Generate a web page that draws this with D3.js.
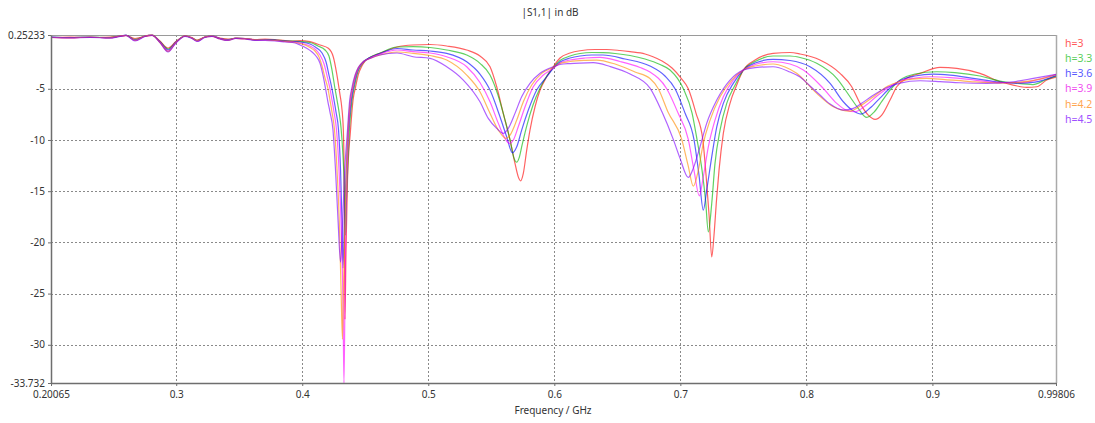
<!DOCTYPE html>
<html><head><meta charset="utf-8">
<script src="https://cdn.jsdelivr.net/npm/d3@7"></script>
<style>body{margin:0;background:#fff;} svg{display:block;font-family:"Noto Sans",sans-serif;}</style>
</head><body><svg id="c" width="1095" height="423"></svg>
<script>
const xTicks = [0.20065,0.3,0.4,0.5,0.6,0.7,0.8,0.9,0.99806];
const xTickLabels = ["0.20065","0.3","0.4","0.5","0.6","0.7","0.8","0.9","0.99806"];
const yTicks = [0.25233,-5,-10,-15,-20,-25,-30,-33.732];
const yTickLabels = ["0.25233","-5","-10","-15","-20","-25","-30","-33.732"];
const seriesNames = ["h=3","h=3.3","h=3.6","h=3.9","h=4.2","h=4.5"];

const lowFreq = [0.20065,0.2157,0.2316,0.2475,0.2554,0.2602,0.2673,0.2752,0.2808,0.2871,0.2935,0.2998,0.3070,0.3125,0.3165,0.3228,0.3284,0.3347,0.3411,0.3474,0.3546,0.3625,0.3705,0.3784,0.3863];
const h30Low = [0.008,0.057,0.008,0.057,0.106,0.204,-0.090,0.106,0.204,-0.334,-1.019,-0.383,0.155,0.008,-0.236,0.057,0.106,-0.041,-0.139,-0.090,-0.139,-0.188,-0.139,-0.188,-0.285];
const h33Low = [0.057,0.008,0.057,0.008,0.155,0.223,-0.188,0.155,0.233,-0.383,-1.116,-0.432,0.155,-0.041,-0.285,0.057,0.155,-0.090,-0.188,-0.041,-0.090,-0.236,-0.188,-0.236,-0.334];
const h36Low = [0.057,0.008,0.057,-0.041,0.155,0.233,-0.236,0.155,0.252,-0.432,-1.214,-0.432,0.155,-0.041,-0.334,0.057,0.155,-0.090,-0.236,-0.041,-0.090,-0.236,-0.188,-0.236,-0.334];
const h39Low = [0.057,-0.041,0.057,-0.041,0.155,0.223,-0.285,0.155,0.233,-0.432,-1.312,-0.481,0.155,-0.041,-0.334,0.057,0.155,-0.090,-0.236,-0.041,-0.090,-0.236,-0.236,-0.285,-0.383];
const h42Low = [0.008,-0.041,0.057,-0.041,0.155,0.223,-0.285,0.155,0.233,-0.481,-1.361,-0.481,0.155,-0.041,-0.334,0.057,0.155,-0.139,-0.285,-0.041,-0.090,-0.236,-0.236,-0.285,-0.383];
const h45Low = [0.008,-0.041,0.008,-0.041,0.106,0.204,-0.334,0.106,0.204,-0.481,-1.410,-0.530,0.106,-0.090,-0.383,0.008,0.106,-0.139,-0.285,-0.090,-0.139,-0.285,-0.285,-0.334,-0.432];

const h30High = [[0.3943,-0.334],[0.3982,-0.305],[0.4062,-0.403],[0.4141,-0.725],[0.4207,-1.048],[0.4246,-1.869],[0.4273,-3.492],[0.4288,-4.635],[0.4300,-5.613],[0.4313,-6.756],[0.4326,-9.034],[0.4334,-15.877],[0.4339,-27.509],[0.4347,-20.764],[0.4359,-13.922],[0.4383,-9.034],[0.4403,-6.102],[0.4423,-4.831],[0.4446,-3.560],[0.4470,-2.846],[0.4498,-2.289],[0.4538,-1.947],[0.4617,-1.536],[0.4752,-0.921],[0.4879,-0.725],[0.5014,-0.676],[0.5146,-0.823],[0.5305,-1.214],[0.5410,-1.800],[0.5490,-2.846],[0.5543,-4.801],[0.5595,-7.401],[0.5649,-10.012],[0.5688,-12.289],[0.5714,-13.599],[0.5733,-13.990],[0.5754,-13.267],[0.5781,-10.989],[0.5807,-9.034],[0.5847,-6.756],[0.5887,-5.124],[0.5940,-3.824],[0.5992,-2.846],[0.6045,-1.996],[0.6125,-1.507],[0.6204,-1.283],[0.6323,-1.165],[0.6416,-1.165],[0.6521,-1.263],[0.6601,-1.380],[0.6720,-1.605],[0.6783,-1.869],[0.6855,-2.289],[0.6934,-2.973],[0.7005,-3.951],[0.7063,-4.997],[0.7124,-7.372],[0.7178,-9.943],[0.7204,-13.433],[0.7228,-17.343],[0.7249,-21.419],[0.7267,-19.298],[0.7287,-15.877],[0.7307,-12.944],[0.7341,-9.357],[0.7394,-6.424],[0.7447,-4.635],[0.7500,-3.169],[0.7593,-2.192],[0.7736,-1.536],[0.7870,-1.458],[0.7950,-1.605],[0.8108,-2.192],[0.8267,-3.492],[0.8360,-4.801],[0.8426,-6.424],[0.8491,-7.568],[0.8545,-7.988],[0.8598,-7.568],[0.8664,-6.102],[0.8717,-4.801],[0.8796,-3.980],[0.8902,-3.492],[0.9060,-2.905],[0.9193,-3.003],[0.9378,-3.492],[0.9536,-4.313],[0.9640,-4.635],[0.9748,-4.860],[0.9828,-4.801],[0.9907,-4.147],[0.99806,-3.853]];
const h33High = [[0.3943,-0.354],[0.3982,-0.383],[0.4062,-0.481],[0.4125,-0.823],[0.4181,-1.214],[0.4212,-1.800],[0.4236,-3.169],[0.4260,-4.997],[0.4276,-6.102],[0.4292,-7.274],[0.4308,-8.838],[0.4323,-11.478],[0.4335,-14.899],[0.4343,-19.298],[0.4351,-15.877],[0.4363,-11.967],[0.4375,-8.838],[0.4395,-6.102],[0.4415,-4.733],[0.4438,-3.511],[0.4462,-2.827],[0.4498,-2.270],[0.4538,-1.918],[0.4617,-1.507],[0.4752,-0.921],[0.4879,-0.891],[0.5014,-0.970],[0.5146,-1.214],[0.5305,-1.703],[0.5410,-2.514],[0.5490,-3.658],[0.5553,-5.613],[0.5609,-8.056],[0.5649,-10.012],[0.5680,-11.771],[0.5702,-12.162],[0.5720,-11.771],[0.5744,-10.500],[0.5783,-8.545],[0.5831,-6.590],[0.5887,-4.929],[0.5940,-3.755],[0.5992,-2.925],[0.6045,-2.240],[0.6125,-1.800],[0.6204,-1.556],[0.6299,-1.458],[0.6386,-1.478],[0.6482,-1.556],[0.6601,-1.752],[0.6720,-2.094],[0.6839,-2.631],[0.6918,-3.169],[0.7024,-4.997],[0.7093,-7.372],[0.7132,-9.943],[0.7172,-12.944],[0.7200,-15.877],[0.7222,-18.975],[0.7249,-16.199],[0.7275,-12.289],[0.7315,-9.034],[0.7368,-6.424],[0.7434,-4.635],[0.7500,-3.169],[0.7593,-2.338],[0.7736,-1.800],[0.7870,-1.800],[0.7950,-1.947],[0.8082,-2.514],[0.8241,-3.980],[0.8346,-5.779],[0.8410,-6.884],[0.8479,-7.793],[0.8537,-7.274],[0.8600,-6.199],[0.8664,-5.124],[0.8743,-4.147],[0.8862,-3.560],[0.9034,-3.335],[0.9179,-3.414],[0.9378,-3.755],[0.9536,-4.244],[0.9655,-4.440],[0.9798,-4.586],[0.9894,-4.147],[0.99806,-3.755]];
const h36High = [[0.3943,-0.383],[0.3982,-0.432],[0.4062,-0.627],[0.4109,-0.970],[0.4157,-1.507],[0.4189,-2.387],[0.4212,-3.658],[0.4236,-4.997],[0.4252,-6.102],[0.4268,-7.274],[0.4288,-9.034],[0.4304,-12.944],[0.4315,-17.832],[0.4323,-22.494],[0.4335,-17.832],[0.4347,-13.433],[0.4367,-9.034],[0.4387,-6.297],[0.4407,-4.831],[0.4431,-3.560],[0.4454,-2.876],[0.4490,-2.289],[0.4538,-1.947],[0.4617,-1.556],[0.4752,-1.067],[0.4879,-1.214],[0.5014,-1.312],[0.5146,-1.536],[0.5305,-2.358],[0.5410,-3.560],[0.5490,-5.124],[0.5569,-7.734],[0.5622,-9.689],[0.5667,-11.253],[0.5702,-10.666],[0.5741,-9.034],[0.5794,-7.079],[0.5860,-5.124],[0.5940,-3.824],[0.5992,-3.003],[0.6045,-2.387],[0.6125,-1.996],[0.6204,-1.800],[0.6299,-1.703],[0.6386,-1.703],[0.6561,-2.094],[0.6759,-2.778],[0.6878,-3.755],[0.6958,-4.997],[0.7037,-7.372],[0.7108,-9.943],[0.7148,-13.433],[0.7182,-16.854],[0.7209,-14.899],[0.7249,-11.644],[0.7289,-8.711],[0.7341,-6.424],[0.7420,-4.469],[0.7500,-3.169],[0.7593,-2.485],[0.7736,-2.123],[0.7870,-2.240],[0.8029,-2.846],[0.8188,-4.469],[0.8293,-6.268],[0.8362,-7.079],[0.8434,-7.470],[0.8505,-6.884],[0.8584,-5.906],[0.8664,-4.929],[0.8743,-4.196],[0.8862,-3.755],[0.9005,-3.560],[0.9140,-3.658],[0.9338,-4.000],[0.9536,-4.342],[0.9695,-4.440],[0.9814,-4.342],[0.99806,-3.707]];
const h39High = [[0.3943,-0.432],[0.3982,-0.530],[0.4062,-0.823],[0.4109,-1.214],[0.4141,-1.703],[0.4173,-2.582],[0.4197,-3.755],[0.4220,-4.997],[0.4236,-6.102],[0.4252,-7.274],[0.4272,-9.034],[0.4292,-12.944],[0.4312,-19.787],[0.4323,-25.652],[0.4331,-33.732],[0.4339,-25.652],[0.4347,-17.832],[0.4359,-11.967],[0.4367,-9.034],[0.4383,-6.297],[0.4403,-4.831],[0.4427,-3.609],[0.4450,-2.925],[0.4490,-2.338],[0.4538,-1.996],[0.4617,-1.605],[0.4752,-1.214],[0.4879,-1.380],[0.5014,-1.507],[0.5146,-1.869],[0.5305,-2.846],[0.5410,-4.391],[0.5490,-6.268],[0.5556,-8.379],[0.5609,-9.845],[0.5643,-10.334],[0.5675,-10.012],[0.5714,-8.711],[0.5768,-6.756],[0.5833,-4.801],[0.5913,-3.658],[0.5992,-3.003],[0.6045,-2.485],[0.6125,-2.192],[0.6244,-1.996],[0.6363,-1.928],[0.6521,-2.338],[0.6680,-2.925],[0.6759,-3.365],[0.6892,-4.997],[0.6982,-7.372],[0.7063,-9.943],[0.7108,-12.944],[0.7151,-15.456],[0.7182,-13.599],[0.7222,-10.666],[0.7275,-8.056],[0.7341,-5.779],[0.7420,-4.147],[0.7500,-3.169],[0.7593,-2.631],[0.7736,-2.358],[0.7870,-2.582],[0.7976,-3.169],[0.8134,-4.958],[0.8241,-6.424],[0.8315,-7.079],[0.8386,-7.245],[0.8465,-6.688],[0.8560,-5.711],[0.8664,-4.782],[0.8743,-4.244],[0.8862,-3.951],[0.8981,-3.824],[0.9140,-3.902],[0.9338,-4.147],[0.9536,-4.391],[0.9695,-4.391],[0.9854,-4.049],[0.99806,-3.609]];
const h42High = [[0.3943,-0.481],[0.3982,-0.579],[0.4062,-0.970],[0.4101,-1.312],[0.4133,-1.898],[0.4157,-2.778],[0.4181,-3.951],[0.4204,-4.997],[0.4220,-6.102],[0.4236,-7.274],[0.4256,-9.034],[0.4276,-12.944],[0.4296,-18.809],[0.4308,-24.674],[0.4319,-29.464],[0.4327,-24.674],[0.4339,-17.832],[0.4351,-12.455],[0.4363,-9.034],[0.4379,-6.297],[0.4399,-4.831],[0.4423,-3.609],[0.4446,-2.925],[0.4486,-2.338],[0.4538,-2.045],[0.4617,-1.703],[0.4752,-1.410],[0.4879,-1.536],[0.5014,-1.752],[0.5146,-2.192],[0.5305,-3.658],[0.5410,-5.290],[0.5490,-7.401],[0.5556,-9.034],[0.5617,-9.845],[0.5649,-9.523],[0.5702,-8.056],[0.5754,-6.268],[0.5821,-4.635],[0.5900,-3.492],[0.5992,-2.905],[0.6045,-2.534],[0.6125,-2.338],[0.6244,-2.221],[0.6336,-2.192],[0.6482,-2.582],[0.6640,-3.365],[0.6759,-4.000],[0.6825,-4.997],[0.6902,-7.274],[0.7011,-9.943],[0.7061,-12.455],[0.7103,-14.508],[0.7143,-12.944],[0.7182,-10.334],[0.7236,-8.056],[0.7315,-5.779],[0.7408,-4.147],[0.7500,-3.169],[0.7593,-2.778],[0.7736,-2.582],[0.7831,-2.876],[0.7923,-3.492],[0.8082,-5.447],[0.8214,-6.756],[0.8283,-7.079],[0.8346,-7.177],[0.8426,-6.688],[0.8529,-5.808],[0.8648,-4.733],[0.8743,-4.293],[0.8838,-4.049],[0.8955,-3.980],[0.9100,-4.098],[0.9298,-4.293],[0.9536,-4.440],[0.9695,-4.342],[0.9854,-4.049],[0.99806,-3.609]];
const h45High = [[0.3943,-0.530],[0.3982,-0.725],[0.4035,-1.048],[0.4078,-1.410],[0.4109,-1.800],[0.4141,-2.514],[0.4167,-3.824],[0.4185,-4.997],[0.4204,-6.297],[0.4220,-7.274],[0.4244,-9.034],[0.4264,-12.944],[0.4284,-17.832],[0.4304,-21.937],[0.4319,-18.320],[0.4335,-13.433],[0.4359,-9.034],[0.4375,-6.297],[0.4395,-4.831],[0.4419,-3.658],[0.4442,-2.973],[0.4482,-2.387],[0.4538,-2.045],[0.4617,-1.703],[0.4752,-1.507],[0.4879,-1.869],[0.5014,-2.026],[0.5146,-2.846],[0.5278,-4.147],[0.5410,-6.268],[0.5476,-7.890],[0.5543,-8.868],[0.5595,-9.357],[0.5635,-8.868],[0.5688,-7.401],[0.5741,-5.779],[0.5807,-4.469],[0.5887,-3.492],[0.5992,-2.846],[0.6045,-2.631],[0.6125,-2.534],[0.6204,-2.485],[0.6309,-2.455],[0.6442,-2.827],[0.6601,-3.560],[0.6759,-4.929],[0.6855,-7.274],[0.6944,-9.943],[0.6997,-11.771],[0.7063,-13.658],[0.7103,-12.748],[0.7156,-10.666],[0.7209,-8.379],[0.7289,-6.102],[0.7394,-4.147],[0.7500,-3.169],[0.7593,-2.925],[0.7736,-2.846],[0.7870,-3.365],[0.7950,-3.853],[0.8029,-4.733],[0.8108,-5.613],[0.8188,-6.492],[0.8293,-7.079],[0.8372,-6.913],[0.8441,-6.395],[0.8521,-5.711],[0.8648,-4.831],[0.8743,-4.440],[0.8902,-4.215],[0.9060,-4.293],[0.9219,-4.411],[0.9431,-4.469],[0.9642,-4.313],[0.9801,-3.980],[0.99806,-3.589]];

const lowSets = [h30Low,h33Low,h36Low,h39Low,h42Low,h45Low];
const highSets = [h30High,h33High,h36High,h39High,h42High,h45High];
const lineColors = ["#ff0000","#00b400","#0000ff","#ff00ff","#ff8c00","#8000ff"];
const textColors = ["#ff5a5a","#5ccf5c","#5a5aff","#f050f0","#ffa54f","#a050ff"];

const svg = d3.select("#c");
const L=51, R=1056, T=35, B=383;
const x = d3.scaleLinear().domain([0.20065,0.99806]).range([L,R]);
const y = d3.scaleLinear().domain([-33.732,0.25233]).range([B,T]);

// grid
const grid = svg.append("g").attr("stroke","#8a8a8a").attr("stroke-width",1).attr("stroke-dasharray","2,2");
xTicks.slice(1,-1).forEach(v=>grid.append("line").attr("x1",Math.round(x(v))+0.5).attr("x2",Math.round(x(v))+0.5).attr("y1",T).attr("y2",B));
yTicks.slice(0,-1).forEach(v=>grid.append("line").attr("y1",Math.round(y(v))+0.5).attr("y2",Math.round(y(v))+0.5).attr("x1",L).attr("x2",R));

// border top/right
svg.append("line").attr("x1",L).attr("x2",R).attr("y1",T+0.5).attr("y2",T+0.5).attr("stroke","#9a9a9a").attr("stroke-width",1);
svg.append("line").attr("x1",R+0.5).attr("x2",R+0.5).attr("y1",T).attr("y2",B).attr("stroke","#aaaaaa").attr("stroke-width",1.5);

// clip
svg.append("clipPath").attr("id","clip").append("rect").attr("x",L).attr("y",T-1).attr("width",R-L).attr("height",B-T+1);

const line = d3.line().x(d=>x(d[0])).y(d=>y(d[1])).curve(d3.curveMonotoneX);
const gLines = svg.append("g").attr("clip-path","url(#clip)");
seriesNames.forEach((name,i)=>{
  const pts = lowFreq.map((f,k)=>[f,lowSets[i][k]]).concat(highSets[i]);
  gLines.append("path").datum(pts).attr("d",line).attr("fill","none")
    .attr("stroke",lineColors[i]).attr("stroke-width",1.2).attr("stroke-opacity",0.62);
});

// axes
const xAxis = d3.axisBottom(x).tickValues(xTicks).tickFormat((d,i)=>xTickLabels[i]).tickSize(3).tickSizeOuter(0).tickPadding(5);
const yAxis = d3.axisLeft(y).tickValues(yTicks).tickFormat((d,i)=>yTickLabels[i]).tickSize(3).tickSizeOuter(0).tickPadding(3);
const gx = svg.append("g").attr("transform",`translate(0,${B})`).call(xAxis);
const gy = svg.append("g").attr("transform",`translate(${L},0)`).call(yAxis);
[gx,gy].forEach(g=>{
  g.select(".domain").attr("stroke","#6e6e6e").attr("stroke-width",1.5);
  g.selectAll(".tick line").attr("stroke","#6e6e6e");
  g.selectAll(".tick text").attr("fill","#333").style("font-size","10px").style("font-family","'Noto Sans',sans-serif");
});

// title & label
svg.append("text").attr("x",550).attr("y",13).attr("text-anchor","middle").attr("dominant-baseline","middle")
  .attr("fill","#333").style("font-size","10px").text("|S1,1| in dB");
svg.append("text").attr("x",553).attr("y",411).attr("text-anchor","middle").attr("dominant-baseline","middle")
  .attr("fill","#333").style("font-size","10px").text("Frequency / GHz");

// legend
seriesNames.forEach((name,i)=>{
  svg.append("text").attr("x",1065).attr("y",44+i*15.2).attr("dominant-baseline","middle")
    .attr("fill",textColors[i]).style("font-size","10.5px").text(name);
});
</script></body></html>
